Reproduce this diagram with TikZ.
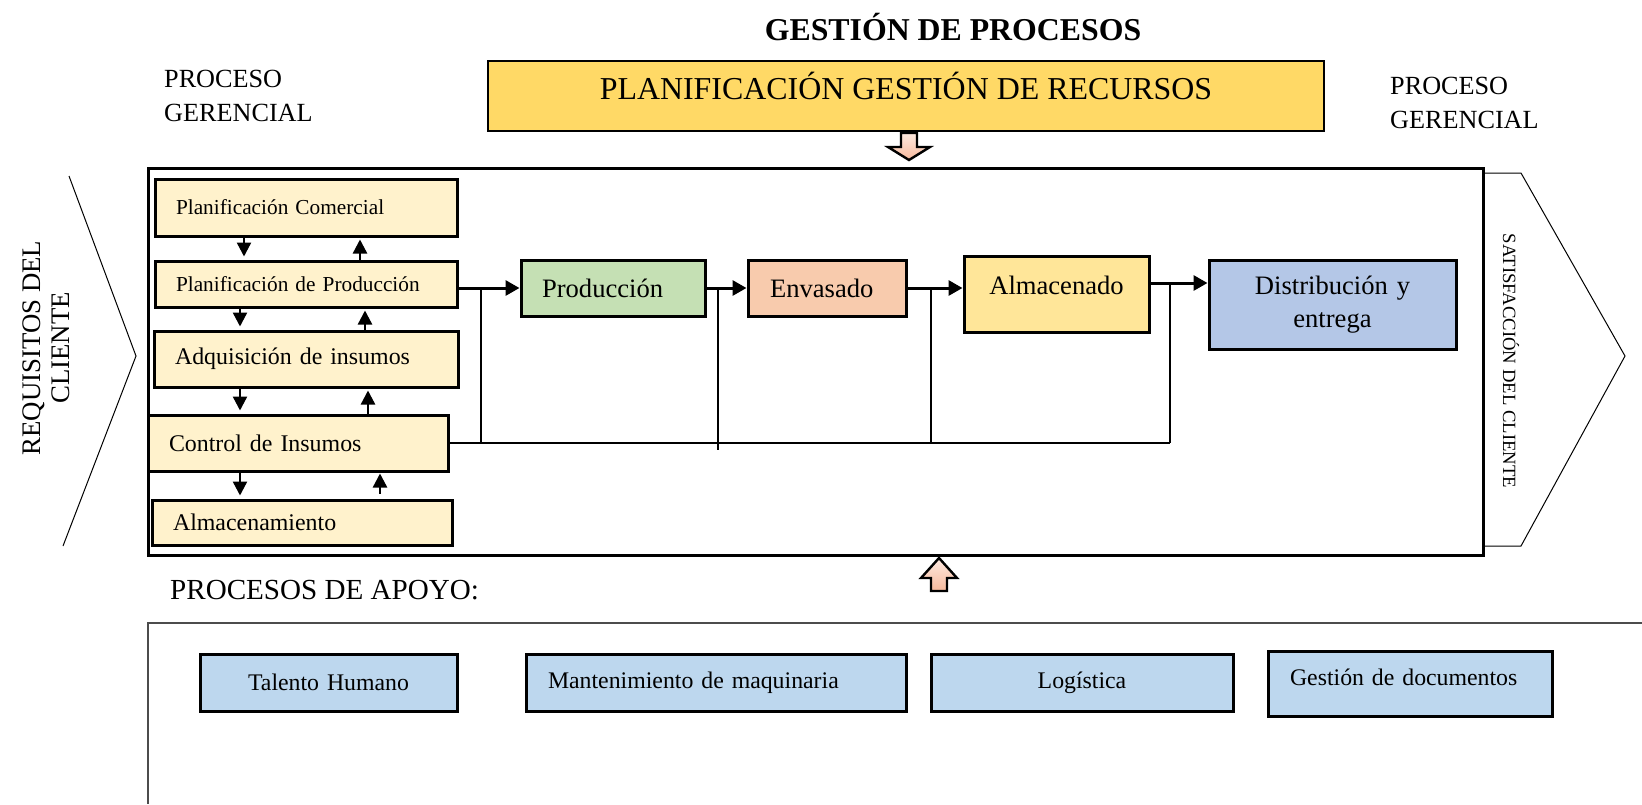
\documentclass[tikz,border=0pt]{standalone}
\usepackage{fontspec}
\setmainfont{Liberation Serif}
\usetikzlibrary{positioning,calc,arrows.meta}
\definecolor{creamfill}{HTML}{FFF2CC}
\definecolor{prodgreen}{HTML}{C5E0B4}
\definecolor{envsalmon}{HTML}{F8CBAD}
\definecolor{almyellow}{HTML}{FFE699}
\definecolor{distblue}{HTML}{B4C7E7}
\definecolor{supblue}{HTML}{BDD7EE}
\definecolor{topgold}{HTML}{FFD966}
\definecolor{arrowtop}{HTML}{FDE9E0}
\definecolor{arrowbot}{HTML}{F7B99C}
\newcommand{\fsz}[2]{\fontsize{#1pt}{#2pt}\selectfont}
\tikzset{
leftbox/.style={draw,line width=3pt,fill=creamfill,inner xsep=21pt,inner ysep=0pt,align=left,font=\fsz{23.9}{28}},
procbox/.style={draw,line width=3pt,inner xsep=21pt,inner ysep=0pt,font=\fsz{26.6}{32.5}},
supbox/.style={draw,line width=3pt,fill=supblue,inner xsep=21pt,inner ysep=0pt,minimum height=57pt,font=\fsz{23.8}{28}},
topbox/.style={draw,line width=1.2pt,fill=topgold,inner sep=0pt,minimum width=836pt,minimum height=70pt,font=\fsz{31.9}{36}},
plain/.style={inner sep=0pt,align=left,font=\fsz{26.2}{34.6}},
mainframe/.style={line width=3pt},
chevron/.style={line width=1pt},
thinline/.style={line width=1.1pt},
flowarrow/.style={-{Triangle[length=14pt,width=15pt]},line width=3pt},
smallarrow/.style={-{Triangle[length=14pt,width=14pt]},line width=2.4pt},
hollowarrow/.style={draw,line width=2.4pt,top color=arrowtop,bottom color=arrowbot},
suppframe/.style={line width=1.8pt,black!70}
}
\begin{document}
\begin{tikzpicture}[x=1pt,y=-1pt]
\useasboundingbox (0,0) rectangle (1642,804);
\node[font=\fsz{31.8}{36}\bfseries,inner sep=0pt] (title) at (953,27) {GESTIÓN DE PROCESOS};
\node[topbox,text depth=20pt] (plan) at (906,96) {PLANIFICACIÓN GESTIÓN DE RECURSOS};
\node[plain,anchor=west] (gerl) at (164,96) {PROCESO\\GERENCIAL};
\node[plain,anchor=west] (gerr) at (1390,103) {PROCESO\\GERENCIAL};

\draw[mainframe] (148,168) rectangle (1483,555);
\draw[chevron] (69,176) -- (136,356) -- (63,546);
\draw[chevron] (1483,173) -- (1521,173) -- (1625,356) -- (1521,546) -- (1483,546);
\node[rotate=90,align=center,inner sep=0pt,font=\fsz{26.8}{29}] (req) at (46,348) {REQUISITOS DEL\\CLIENTE};
\node[rotate=-90,inner sep=0pt,font=\fsz{18.7}{22}] (sat) at (1511,361) {SATISFACCIÓN DEL CLIENTE};

\path[hollowarrow] (901,133) -- (917,133) -- (917,147) -- (930,147) -- (909,160) -- (888,147) -- (901,147) -- cycle;
\path[hollowarrow] (931,591) -- (947,591) -- (947,578) -- (957,578) -- (939,558) -- (921,578) -- (931,578) -- cycle;

\node[leftbox,font=\fsz{21.3}{26},text width=260pt,minimum height=57pt] (pc) at (306,207.5) {Planificación Comercial};
\node[leftbox,font=\fsz{21.3}{26},text width=260pt,minimum height=46pt] (pp) at (306,284) {Planificación de Producción};
\node[leftbox,text width=262pt,minimum height=56pt] (ai) at (306,359) {Adquisición de insumos};
\node[leftbox,text width=258pt,minimum height=56pt] (ci) at (298,443) {Control de Insumos};
\node[leftbox,text width=258pt,minimum height=45pt] (alm) at (302,522.5) {Almacenamiento};

\draw[smallarrow] (244,0 |- pc.south) -- ([yshift=3pt]244,0 |- pp.north);
\draw[smallarrow] (360,0 |- pp.north) -- ([yshift=-2pt]360,0 |- pc.south);
\draw[smallarrow] (240,0 |- pp.south) -- ([yshift=3pt]240,0 |- ai.north);
\draw[smallarrow] (365,0 |- ai.north) -- ([yshift=-2pt]365,0 |- pp.south);
\draw[smallarrow] (240,0 |- ai.south) -- ([yshift=3pt]240,0 |- ci.north);
\draw[smallarrow] (368,0 |- ci.north) -- ([yshift=-2pt]368,0 |- ai.south);
\draw[smallarrow] (240,0 |- ci.south) -- ([yshift=3pt]240,0 |- alm.north);
\draw[smallarrow] ([yshift=5pt]380,0 |- alm.north) -- ([yshift=-1pt]380,0 |- ci.south);

\node[procbox,fill=prodgreen,text width=142pt,align=left,minimum height=56pt] (prod) at (613,288) {Producción};
\node[procbox,fill=envsalmon,inner xsep=22pt,text width=114pt,align=left,minimum height=56pt] (env) at (827,288) {Envasado};
\node[procbox,fill=almyellow,text width=143pt,align=center,minimum height=76pt,text depth=18pt] (almd) at (1056.5,294) {Almacenado};
\node[procbox,fill=distblue,text width=205pt,align=center,minimum height=89pt] (dist) at (1332.5,304.5) {Distribución y\\entrega};

\draw[flowarrow] (pp.east |- prod.west) -- (prod.west);
\draw[flowarrow] (prod.east) -- (env.west);
\draw[flowarrow] (env.east) -- (env.east -| almd.west);
\draw[flowarrow] ([yshift=11pt]almd.east) -- ([yshift=11pt]almd.east -| dist.west);

\coordinate (j1) at (481,288);
\coordinate (j2) at (718,288);
\coordinate (j3) at (931,288);
\coordinate (j4) at (1170,283);
\draw[thinline] (ci.east) -- (ci.east -| j4);
\draw[thinline] (j1) -- (j1 |- ci.east);
\draw[thinline] (j2) -- ([yshift=-7pt]j2 |- ci.east);
\draw[thinline] (j3) -- (j3 |- ci.east);
\draw[thinline] (j4) -- (j4 |- ci.east);

\node[anchor=west,inner sep=0pt,font=\fsz{29.1}{34}] (apoyo) at (170,590) {PROCESOS DE APOYO:};
\draw[suppframe] (1642,623) -- (148,623) -- (148,804);
\node[supbox,text width=215pt,align=center] (th) at (328.5,682.5) {Talento Humano};
\node[supbox,inner xsep=22pt,text width=336pt,align=left] (mm) at (716,682.5) {Mantenimiento de maquinaria};
\node[supbox,text width=260pt,align=center] (log) at (1082,682.5) {Logística};
\node[supbox,inner xsep=22pt,text width=240pt,align=left,minimum height=65pt,text depth=12pt] (gd) at (1410,683.5) {Gestión de documentos};
\end{tikzpicture}
\end{document}
